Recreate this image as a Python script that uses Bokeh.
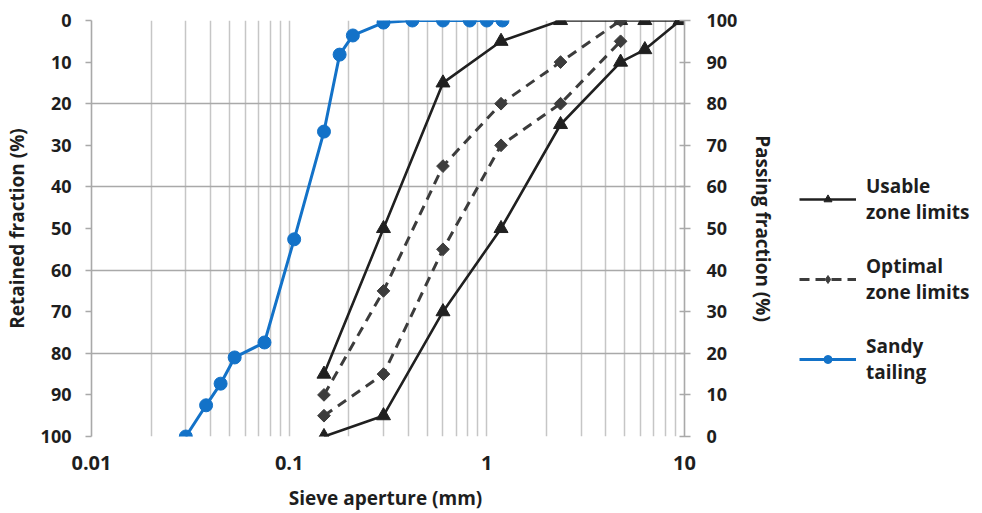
import numpy as np
from bokeh.plotting import figure
from bokeh.layouts import row
from bokeh.models import (Range1d, LinearAxis, FixedTicker, Legend, LegendItem)
from bokeh.embed import file_html
from bokeh.resources import INLINE

# ---------------- data ----------------
sandy_size = [0.03, 0.038, 0.045, 0.053, 0.075, 0.106, 0.15, 0.18, 0.21, 0.30, 0.42, 0.60, 0.82, 1.0, 1.2]
sandy_pass = [0, 7.5, 12.7, 19, 22.6, 47.4, 73.3, 91.8, 96.4, 99.5, 100, 100, 100, 100, 100]

usable_size = [0.15, 0.3, 0.6, 1.18, 2.36, 4.75, 6.3, 9.5]
usable_upper = [15, 50, 85, 95, 100, 100, 100, 100]
usable_lower = [0, 5, 30, 50, 75, 90, 93, 100]

optimal_size = [0.15, 0.3, 0.6, 1.18, 2.36, 4.75]
optimal_upper = [10, 35, 65, 80, 90, 100]
optimal_lower = [5, 15, 45, 70, 80, 95]

x_ticks = [0.01, 0.1, 1, 10]
x_tick_labels = ["0.01", "0.1", "1", "10"]
x_minor = [m * d for d in [0.01, 0.1, 1] for m in range(2, 10)]
y_ticks = [0, 10, 20, 30, 40, 50, 60, 70, 80, 90, 100]

legend_labels = ["Usable\nzone limits", "Optimal\nzone limits", "Sandy\ntailing"]

FONT = "Open Sans"
TXT = "#1e1e1e"
BLUE = "#1372c8"
BLACK = "#202020"
GREY = "#3c3c3c"

TOP, BOTTOM, LEFT, RIGHT = 20, 76, 84, 92
p = figure(frame_width=593, frame_height=416, x_axis_type="log", output_backend="svg",
           toolbar_location=None, x_range=Range1d(0.01, 10), y_range=Range1d(0, 100),
           y_axis_location=None, min_border_left=LEFT, min_border_right=RIGHT,
           min_border_top=TOP, min_border_bottom=BOTTOM)
p.outline_line_color = None
p.background_fill_color = "white"
p.border_fill_color = "white"

p.extra_y_ranges = {"ret": Range1d(start=100, end=0)}

# x axis
xa = p.xaxis[0]
xa.ticker = FixedTicker(ticks=x_ticks, minor_ticks=x_minor)
xa.major_label_overrides = {t: l for t, l in zip(x_ticks, x_tick_labels)}
xa.axis_line_color = None
xa.major_tick_line_color = None
xa.minor_tick_line_color = None
xa.major_label_text_font = FONT
xa.major_label_text_font_style = "bold"
xa.major_label_text_font_size = "20px"
xa.major_label_text_color = TXT
xa.major_label_standoff = 13
xa.axis_label = "Sieve aperture  (mm)"
xa.axis_label_text_font = FONT
xa.axis_label_text_font_style = "bold"
xa.axis_label_text_font_size = "19px"
xa.axis_label_text_color = TXT
xa.axis_label_standoff = 12

# grids
p.xgrid.grid_line_color = "#c6c6c6"
p.xgrid.grid_line_width = 1.5
p.xgrid.minor_grid_line_color = "#c6c6c6"
p.xgrid.minor_grid_line_width = 1.5
p.ygrid.grid_line_color = "#a9a9a9"
p.ygrid.grid_line_width = 1.6


def style_y(ax):
    ax.ticker = FixedTicker(ticks=y_ticks)
    ax.axis_line_color = "#a9a9a9"
    ax.axis_line_width = 1.6
    ax.major_tick_line_color = "#a9a9a9"
    ax.major_tick_line_width = 1.6
    ax.major_tick_out = 6
    ax.major_tick_in = 0
    ax.minor_tick_line_color = None
    ax.major_label_text_font = FONT
    ax.major_label_text_font_style = "bold"
    ax.major_label_text_font_size = "18px"
    ax.major_label_text_color = TXT
    ax.major_label_standoff = 14
    ax.axis_label_text_font = FONT
    ax.axis_label_text_font_style = "bold"
    ax.axis_label_text_font_size = "19px"
    ax.axis_label_text_color = TXT
    ax.axis_label_standoff = 8


left = LinearAxis(y_range_name="ret", axis_label="Retained fraction (%)")
style_y(left)
p.add_layout(left, "left")

right = LinearAxis(axis_label="Passing fraction (%)")
style_y(right)
right.major_tick_in = 5
right.major_label_standoff = 16
right.axis_label_standoff = 10
p.add_layout(right, "right")

# ---------------- series ----------------
p.line(usable_size, usable_upper, line_color=BLACK, line_width=2.6)
p.scatter(usable_size, usable_upper, marker="triangle", size=14, fill_color=BLACK, line_color=BLACK)
p.line(usable_size, usable_lower, line_color=BLACK, line_width=2.6)
p.scatter(usable_size, usable_lower, marker="triangle", size=14, fill_color=BLACK, line_color=BLACK)

p.line(optimal_size, optimal_upper, line_color=GREY, line_width=3, line_dash="10 7")
p.scatter(optimal_size, optimal_upper, marker="square", angle=np.pi / 4, size=9,
          fill_color=GREY, line_color=GREY)
p.line(optimal_size, optimal_lower, line_color=GREY, line_width=3, line_dash="10 7")
p.scatter(optimal_size, optimal_lower, marker="square", angle=np.pi / 4, size=9,
          fill_color=GREY, line_color=GREY)

p.line(sandy_size, sandy_pass, line_color=BLUE, line_width=3)
p.scatter(sandy_size, sandy_pass, marker="circle", size=13, fill_color=BLUE, line_color=BLUE)

# ---------------- legend panel (separate figure; its proxy glyphs lie outside its ranges) ----------------
H = TOP + 416 + BOTTOM
lg = figure(width=966 - (LEFT + 593 + RIGHT), height=H, output_backend="svg", toolbar_location=None,
            x_range=Range1d(-2, -1), y_range=Range1d(-2, -1), min_border=0)
lg.axis.visible = False
lg.grid.visible = False
lg.outline_line_color = None

proxies = [
    (usable_size, usable_upper, dict(line_color=BLACK, line_width=2.6, line_dash="solid"),
     dict(marker="triangle", size=13, fill_color=BLACK, line_color=BLACK)),
    (optimal_size, optimal_upper, dict(line_color=GREY, line_width=3, line_dash="10 6"),
     dict(marker="diamond", size=15, fill_color=GREY, line_color=GREY)),
    (sandy_size, sandy_pass, dict(line_color=BLUE, line_width=3, line_dash="solid"),
     dict(marker="circle", size=12, fill_color=BLUE, line_color=BLUE)),
]
items = []
for lab, (xs, ys, lst, mst) in zip(legend_labels, proxies):
    ln = lg.line(xs, ys, **lst)
    sc = lg.scatter(xs, ys, **mst)
    items.append(LegendItem(label=lab, renderers=[ln, sc]))

legend = Legend(items=items, location=(20, 50))
legend.border_line_color = None
legend.background_fill_alpha = 0
legend.label_text_font = FONT
legend.label_text_font_style = "bold"
legend.label_text_font_size = "19px"
legend.label_text_color = TXT
legend.glyph_width = 57
legend.label_standoff = 10
legend.spacing = 28
legend.padding = 6
legend.margin = 0
lg.add_layout(legend, "center")

layout = row(p, lg, spacing=0)
open("out.html", "w").write(file_html(layout, INLINE))
